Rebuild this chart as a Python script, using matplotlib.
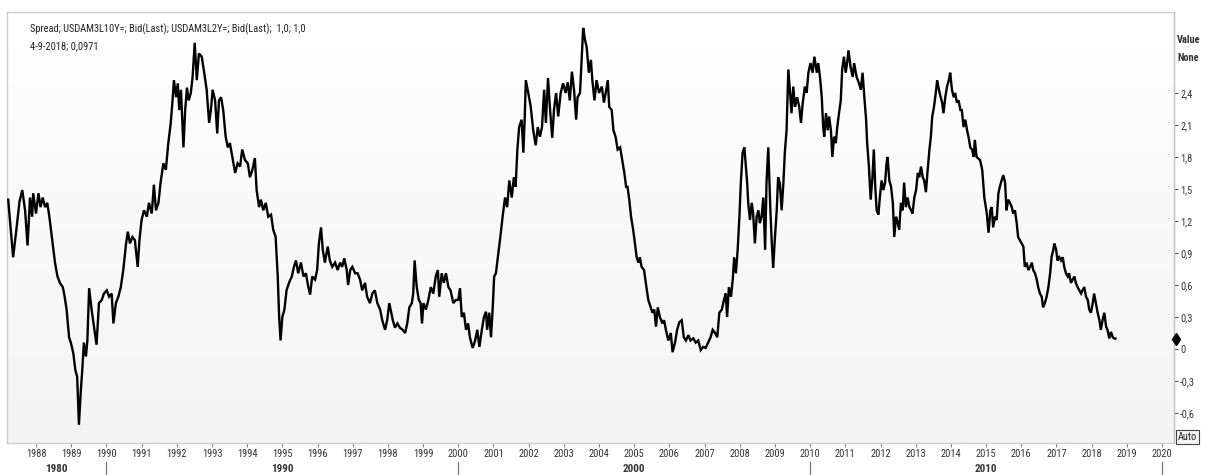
import numpy as np
import matplotlib
matplotlib.use("Agg")
import matplotlib.pyplot as plt
import matplotlib.transforms as mtransforms
from matplotlib import font_manager
from matplotlib.colors import LinearSegmentedColormap

# 10Y - 2Y USD swap spread (decimal years, percentage points)
t_year = np.array([
    1987.21, 1987.31, 1987.35, 1987.45, 1987.53, 1987.61, 1987.69, 1987.76, 1987.83, 1987.89, 1987.92,
    1988.00, 1988.07, 1988.13, 1988.19, 1988.26, 1988.32, 1988.38, 1988.45, 1988.54, 1988.61, 1988.68, 1988.76, 1988.80, 1988.87, 1988.94, 1988.99,
    1989.06, 1989.12, 1989.17, 1989.22, 1989.27, 1989.32, 1989.36, 1989.42, 1989.46, 1989.51, 1989.58, 1989.66, 1989.72, 1989.79, 1989.87, 1989.93,
    1990.01, 1990.08, 1990.15, 1990.20, 1990.27, 1990.34, 1990.41, 1990.48, 1990.56, 1990.61, 1990.67, 1990.74, 1990.81, 1990.89, 1990.94,
    1991.00, 1991.07, 1991.15, 1991.21, 1991.29, 1991.35, 1991.41, 1991.48, 1991.54, 1991.62, 1991.69, 1991.76, 1991.83, 1991.88, 1991.92, 1991.98,
    1992.03, 1992.07, 1992.12, 1992.19, 1992.24, 1992.29, 1992.34, 1992.40, 1992.45, 1992.51, 1992.57, 1992.63, 1992.71, 1992.78, 1992.85, 1992.92, 1992.97,
    1993.02, 1993.09, 1993.15, 1993.20, 1993.26, 1993.32, 1993.39, 1993.45, 1993.51, 1993.58, 1993.66, 1993.73, 1993.80, 1993.86, 1993.94,
    1994.02, 1994.08, 1994.15, 1994.22, 1994.27, 1994.34, 1994.39, 1994.46, 1994.53, 1994.60, 1994.68, 1994.74, 1994.81, 1994.87, 1994.91, 1994.95,
    1995.00, 1995.06, 1995.12, 1995.19, 1995.27, 1995.33, 1995.39, 1995.45, 1995.53, 1995.60, 1995.67, 1995.74, 1995.79, 1995.85, 1995.93, 1995.99,
    1996.04, 1996.10, 1996.15, 1996.21, 1996.29, 1996.35, 1996.42, 1996.50, 1996.57, 1996.64, 1996.70, 1996.76, 1996.83, 1996.87, 1996.93, 1996.99,
    1997.07, 1997.14, 1997.21, 1997.27, 1997.35, 1997.41, 1997.49, 1997.56, 1997.63, 1997.70, 1997.78, 1997.84, 1997.92, 1997.98,
    1998.04, 1998.14, 1998.20, 1998.27, 1998.34, 1998.42, 1998.49, 1998.55, 1998.61, 1998.68, 1998.72, 1998.76, 1998.82, 1998.88, 1998.93, 1998.97,
    1999.01, 1999.08, 1999.15, 1999.22, 1999.29, 1999.36, 1999.42, 1999.46, 1999.53, 1999.59, 1999.65, 1999.72, 1999.78, 1999.86, 1999.93,
    2000.00, 2000.05, 2000.10, 2000.16, 2000.22, 2000.28, 2000.33, 2000.41, 2000.48, 2000.54, 2000.60, 2000.67, 2000.73, 2000.79, 2000.82, 2000.88, 2000.93, 2000.98,
    2001.02, 2001.07, 2001.14, 2001.21, 2001.26, 2001.33, 2001.39, 2001.45, 2001.52, 2001.58, 2001.63, 2001.68, 2001.73, 2001.80, 2001.85, 2001.89, 2001.92, 2001.99,
    2002.06, 2002.13, 2002.20, 2002.26, 2002.32, 2002.38, 2002.44, 2002.49, 2002.55, 2002.61, 2002.67, 2002.72, 2002.78, 2002.84, 2002.91, 2002.98,
    2003.05, 2003.11, 2003.17, 2003.23, 2003.29, 2003.35, 2003.39, 2003.46, 2003.51, 2003.55, 2003.60, 2003.65, 2003.68, 2003.71, 2003.77, 2003.81, 2003.87, 2003.93, 2004.00,
    2004.08, 2004.14, 2004.19, 2004.25, 2004.29, 2004.36, 2004.41, 2004.47, 2004.53, 2004.60, 2004.66, 2004.72, 2004.77, 2004.81, 2004.86, 2004.91, 2004.97,
    2005.02, 2005.07, 2005.12, 2005.16, 2005.21, 2005.28, 2005.33, 2005.40, 2005.47, 2005.52, 2005.57, 2005.62, 2005.67, 2005.73, 2005.80, 2005.85, 2005.90, 2005.97,
    2006.04, 2006.09, 2006.16, 2006.22, 2006.28, 2006.35, 2006.41, 2006.47, 2006.54, 2006.60, 2006.68, 2006.75, 2006.82, 2006.89, 2006.96,
    2007.03, 2007.10, 2007.17, 2007.23, 2007.30, 2007.36, 2007.42, 2007.49, 2007.55, 2007.60, 2007.64, 2007.69, 2007.75, 2007.80, 2007.84, 2007.89, 2007.94, 2007.99,
    2008.03, 2008.08, 2008.13, 2008.18, 2008.21, 2008.24, 2008.29, 2008.34, 2008.38, 2008.43, 2008.48, 2008.53, 2008.57, 2008.62, 2008.67, 2008.72, 2008.76, 2008.81, 2008.87, 2008.91, 2008.95,
    2009.00, 2009.05, 2009.09, 2009.14, 2009.19, 2009.24, 2009.28, 2009.33, 2009.38, 2009.43, 2009.47, 2009.52, 2009.57, 2009.63, 2009.69, 2009.74, 2009.79, 2009.85, 2009.90, 2009.95,
    2010.01, 2010.07, 2010.12, 2010.19, 2010.23, 2010.28, 2010.33, 2010.37, 2010.40, 2010.45, 2010.50, 2010.54, 2010.59, 2010.63, 2010.68, 2010.73, 2010.77, 2010.82, 2010.87, 2010.91, 2010.96,
    2011.01, 2011.05, 2011.09, 2011.15, 2011.21, 2011.25, 2011.32, 2011.39, 2011.44, 2011.49, 2011.54, 2011.59, 2011.62, 2011.67, 2011.72, 2011.77, 2011.81, 2011.85, 2011.89, 2011.94, 2011.98,
    2012.03, 2012.08, 2012.13, 2012.17, 2012.20, 2012.25, 2012.30, 2012.35, 2012.39, 2012.44, 2012.49, 2012.53, 2012.58, 2012.63, 2012.67, 2012.72, 2012.77, 2012.82, 2012.87, 2012.91, 2012.96,
    2013.01, 2013.06, 2013.10, 2013.15, 2013.20, 2013.24, 2013.29, 2013.34, 2013.39, 2013.43, 2013.47, 2013.52, 2013.57, 2013.61, 2013.66, 2013.71, 2013.75, 2013.79, 2013.84, 2013.89, 2013.94, 2013.98,
    2014.03, 2014.08, 2014.12, 2014.17, 2014.22, 2014.27, 2014.31, 2014.36, 2014.41, 2014.46, 2014.50, 2014.55, 2014.60, 2014.65, 2014.68, 2014.73, 2014.83, 2014.89, 2014.95,
    2015.02, 2015.07, 2015.12, 2015.16, 2015.20, 2015.25, 2015.30, 2015.35, 2015.39, 2015.44, 2015.49, 2015.54, 2015.58, 2015.63, 2015.68, 2015.73, 2015.77, 2015.82, 2015.87, 2015.91, 2015.96,
    2016.01, 2016.06, 2016.10, 2016.15, 2016.20, 2016.25, 2016.30, 2016.34, 2016.39, 2016.44, 2016.48, 2016.53, 2016.58, 2016.62, 2016.67, 2016.72, 2016.77, 2016.82, 2016.86, 2016.91, 2016.94, 2016.99,
    2017.03, 2017.08, 2017.13, 2017.18, 2017.22, 2017.27, 2017.32, 2017.36, 2017.41, 2017.46, 2017.51, 2017.55, 2017.60, 2017.65, 2017.70, 2017.74, 2017.79, 2017.84, 2017.89, 2017.93, 2017.98,
    2018.03, 2018.07, 2018.12, 2018.17, 2018.22, 2018.26, 2018.31, 2018.36, 2018.41, 2018.45, 2018.50, 2018.55, 2018.60, 2018.64, 2018.675,
])

spread = np.array([
    1.40, 1.02, 0.86, 1.14, 1.38, 1.49, 1.30, 0.97, 1.42, 1.24, 1.46,
    1.27, 1.46, 1.33, 1.42, 1.33, 1.37, 1.24, 1.05, 0.81, 0.68, 0.62, 0.58, 0.52, 0.37, 0.11, 0.06,
    -0.04, -0.20, -0.26, -0.71, -0.41, -0.17, 0.06, -0.07, 0.08, 0.57, 0.37, 0.18, 0.04, 0.43, 0.46, 0.52,
    0.55, 0.49, 0.52, 0.24, 0.43, 0.49, 0.58, 0.74, 0.99, 1.10, 0.99, 1.05, 1.02, 0.77, 1.02,
    1.21, 1.30, 1.24, 1.37, 1.27, 1.54, 1.30, 1.37, 1.56, 1.74, 1.68, 1.93, 2.12, 2.33, 2.52, 2.36,
    2.49, 2.24, 2.43, 1.89, 2.24, 2.45, 2.33, 2.40, 2.55, 2.87, 2.52, 2.77, 2.74, 2.59, 2.43, 2.12, 2.24,
    2.43, 2.33, 2.02, 2.33, 2.36, 2.24, 1.99, 1.89, 1.93, 1.80, 1.65, 1.74, 1.71, 1.87, 1.77,
    1.74, 1.61, 1.68, 1.79, 1.49, 1.33, 1.40, 1.30, 1.37, 1.24, 1.26, 1.12, 1.05, 0.68, 0.30, 0.08,
    0.30, 0.37, 0.55, 0.62, 0.68, 0.77, 0.83, 0.71, 0.81, 0.68, 0.71, 0.58, 0.51, 0.68, 0.65, 0.74,
    0.99, 1.14, 0.93, 0.81, 0.96, 0.83, 0.77, 0.81, 0.74, 0.81, 0.77, 0.85, 0.74, 0.60, 0.74, 0.77,
    0.71, 0.71, 0.65, 0.55, 0.62, 0.49, 0.43, 0.52, 0.55, 0.43, 0.37, 0.27, 0.18, 0.27,
    0.43, 0.27, 0.20, 0.24, 0.20, 0.18, 0.15, 0.24, 0.39, 0.43, 0.52, 0.83, 0.58, 0.46, 0.43, 0.24,
    0.43, 0.37, 0.46, 0.58, 0.52, 0.68, 0.74, 0.49, 0.71, 0.62, 0.71, 0.58, 0.55, 0.43, 0.46,
    0.46, 0.57, 0.30, 0.34, 0.18, 0.24, 0.11, 0.01, 0.08, 0.18, 0.02, 0.18, 0.30, 0.35, 0.18, 0.34, 0.11, 0.39,
    0.68, 0.71, 0.90, 1.09, 1.24, 1.42, 1.33, 1.58, 1.42, 1.61, 1.52, 1.87, 2.08, 2.15, 1.84, 2.18, 2.52, 2.40,
    2.27, 2.05, 1.91, 2.08, 1.99, 2.08, 2.43, 2.12, 2.54, 2.24, 1.98, 2.24, 2.40, 2.18, 2.40, 2.49,
    2.40, 2.50, 2.33, 2.60, 2.43, 2.15, 2.36, 2.40, 2.74, 3.01, 2.90, 2.83, 2.71, 2.59, 2.71, 2.52, 2.33, 2.52, 2.40,
    2.46, 2.31, 2.40, 2.52, 2.27, 2.24, 2.05, 1.99, 1.87, 1.89, 1.77, 1.65, 1.52, 1.52, 1.40, 1.24, 1.12,
    0.99, 0.86, 0.81, 0.86, 0.77, 0.74, 0.62, 0.46, 0.39, 0.34, 0.37, 0.21, 0.39, 0.30, 0.24, 0.27, 0.18, 0.08,
    0.15, -0.03, 0.06, 0.18, 0.25, 0.27, 0.11, 0.08, 0.13, 0.08, 0.10, 0.06, 0.08, -0.01, 0.02,
    0.01, 0.06, 0.11, 0.18, 0.15, 0.11, 0.34, 0.37, 0.46, 0.52, 0.30, 0.58, 0.49, 0.65, 0.86, 0.71, 0.93, 1.24,
    1.56, 1.84, 1.89, 1.68, 1.56, 1.37, 1.21, 1.37, 1.27, 0.99, 1.24, 1.30, 1.18, 1.24, 1.42, 0.93, 1.56, 1.89, 1.30, 0.99, 0.76,
    1.05, 1.30, 1.61, 1.55, 1.30, 1.56, 1.84, 2.05, 2.62, 2.40, 2.21, 2.46, 2.27, 2.36, 2.27, 2.12, 2.31, 2.46, 2.40, 2.59,
    2.68, 2.59, 2.74, 2.59, 2.68, 2.55, 2.36, 2.08, 1.99, 2.21, 2.05, 2.18, 2.05, 1.80, 1.99, 1.93, 2.08, 2.21, 2.33, 2.62, 2.74,
    2.59, 2.68, 2.80, 2.64, 2.55, 2.68, 2.55, 2.49, 2.43, 2.59, 2.36, 2.15, 1.93, 1.71, 1.40, 1.61, 1.87, 1.52, 1.30, 1.26, 1.42,
    1.58, 1.49, 1.56, 1.74, 1.80, 1.58, 1.52, 1.37, 1.05, 1.24, 1.18, 1.12, 1.37, 1.30, 1.56, 1.33, 1.42, 1.33, 1.30, 1.27, 1.42,
    1.49, 1.65, 1.61, 1.71, 1.61, 1.58, 1.47, 1.68, 1.87, 1.99, 2.18, 2.27, 2.40, 2.52, 2.43, 2.36, 2.31, 2.21, 2.36, 2.46, 2.52, 2.59,
    2.43, 2.36, 2.40, 2.31, 2.33, 2.24, 2.24, 2.08, 2.15, 2.05, 1.99, 1.89, 1.87, 1.80, 1.96, 1.80, 1.77, 1.68, 1.42,
    1.27, 1.09, 1.30, 1.33, 1.14, 1.24, 1.21, 1.46, 1.52, 1.58, 1.63, 1.56, 1.30, 1.40, 1.37, 1.33, 1.27, 1.30, 1.18, 1.05, 1.02,
    0.99, 0.96, 0.77, 0.81, 0.74, 0.77, 0.81, 0.74, 0.71, 0.65, 0.58, 0.52, 0.49, 0.39, 0.43, 0.49, 0.58, 0.71, 0.86, 0.93, 0.99, 0.93,
    0.83, 0.86, 0.83, 0.86, 0.77, 0.71, 0.68, 0.71, 0.62, 0.65, 0.68, 0.62, 0.58, 0.55, 0.52, 0.55, 0.58, 0.49, 0.46, 0.37, 0.34,
    0.43, 0.52, 0.43, 0.34, 0.27, 0.18, 0.27, 0.34, 0.21, 0.18, 0.10, 0.16, 0.11, 0.10, 0.0971,
])

series_title = "Spread; USDAM3L10Y=; Bid(Last); USDAM3L2Y=; Bid(Last);  1,0; 1,0"
last_date_label = "4-9-2018"
last_value = 0.0971
year_ticks = list(range(1988, 2021))
decade_labels = ["1980", "1990", "2000", "2010"]
decade_bounds = [1990, 2000, 2010, 2020]
value_ticks = [-0.6, -0.3, 0.0, 0.3, 0.6, 0.9, 1.2, 1.5, 1.8, 2.1, 2.4]


def pick_font(*names):
    available = {f.name for f in font_manager.fontManager.ttflist}
    for n in names:
        if n in available:
            return n
    return "DejaVu Sans"


FONT = pick_font("Liberation Sans Narrow", "Roboto Condensed", "Open Sans", "DejaVu Sans")
plt.rcParams["font.family"] = [FONT, "DejaVu Sans"]

W, H = 1206, 475
fig = plt.figure(figsize=(W / 100, H / 100), dpi=100)
fig.patch.set_facecolor("white")

left, right, top, bottom = 7, 1174, 12, 443
ax = fig.add_axes([left / W, 1 - bottom / H, (right - left) / W, (bottom - top) / H])
x0, x1 = 1987.176, 2020.34
y0, y1 = -0.881, 3.159
ax.set_xlim(x0, x1)
ax.set_ylim(y0, y1)

# soft vertical background gradient in the plotting area
grad_cmap = LinearSegmentedColormap.from_list("bg", ["#ffffff", "#f9f9f9", "#f4f4f4"])
grad = np.linspace(1, 0, 256).reshape(-1, 1)
ax.imshow(1 - grad, extent=[x0, x1, y0, y1], aspect="auto", cmap=grad_cmap,
          origin="upper", zorder=0, interpolation="bilinear")

ax.plot(t_year, spread, color="black", lw=1.7, solid_joinstyle="miter", zorder=3)

for side, sp in ax.spines.items():
    sp.set_color("#cfcfcf")
    sp.set_linewidth(1.0)
ax.spines["right"].set_color("#bdbdbd")

# value axis on the right
ax.yaxis.tick_right()
ax.set_yticks(value_ticks)
ax.set_yticklabels(["0" if abs(v) < 1e-9 else f"{v:.1f}".replace(".", ",") for v in value_ticks])
ax.tick_params(axis="y", direction="out", length=3, width=0.8, color="#555555",
               labelcolor="#333333", labelsize=7.5, pad=1.5)

# year axis
ax.set_xticks(year_ticks)
ax.set_xticklabels([str(y) for y in year_ticks])
ax.tick_params(axis="x", direction="out", length=3, width=0.8, color="#888888",
               labelcolor="#333333", labelsize=7.5, pad=1.5)

# decade band below the year labels
btr = mtransforms.blended_transform_factory(ax.transData, fig.transFigure)
edges = [x0] + decade_bounds
for lab, a, b in zip(decade_labels, edges[:-1], edges[1:]):
    ax.text((a + b) / 2, 1 - 469 / H, lab, transform=btr, ha="center", va="center",
            fontsize=8, fontweight="bold", color="#333333", clip_on=False)
for d in decade_bounds:
    ax.plot([d, d], [1 - 462 / H, 0], transform=btr, color="#777777", lw=0.9, clip_on=False)

# last-value marker on the value axis
mtr = mtransforms.blended_transform_factory(ax.transAxes, ax.transData)
ax.plot([1.0015], [last_value], marker="d", ms=6.5, color="black", transform=mtr, clip_on=False, zorder=5)

# series header
fig.text(30 / W, 1 - 29 / H, series_title, fontsize=7.5, color="#222222", va="center", ha="left")
fig.text(30 / W, 1 - 46 / H, f"{last_date_label}; {str(last_value).replace('.', ',')}",
         fontsize=7.5, color="#222222", va="center", ha="left")

# axis caption and scale button
fig.text(1177 / W, 1 - 40 / H, "Value", fontsize=7.5, fontweight="bold", color="#333333", va="center", ha="left")
fig.text(1177 / W, 1 - 58 / H, "None", fontsize=7.5, fontweight="bold", color="#333333", va="center", ha="left")
fig.text(1178 / W, 1 - 437 / H, "Auto", fontsize=7.5, color="#222222", va="center", ha="left",
         bbox=dict(boxstyle="square,pad=0.15", facecolor="#f4f4f4", edgecolor="#444444", linewidth=0.8))

fig.savefig("out.png", dpi=100, facecolor="white")
